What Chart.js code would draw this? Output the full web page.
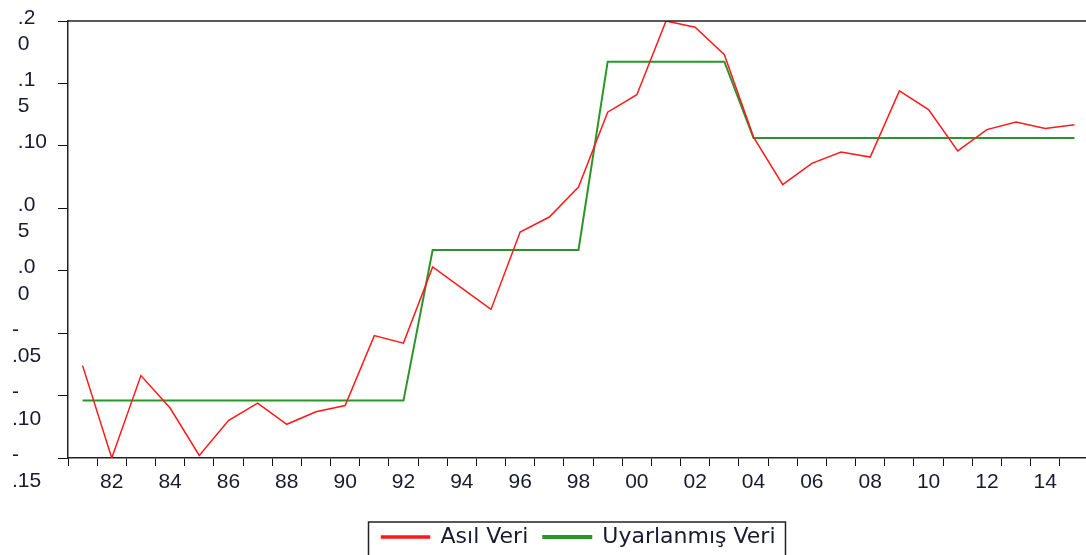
<!DOCTYPE html>
<html>
<head>
<meta charset="utf-8">
<script src="https://cdn.jsdelivr.net/npm/chart.js@4"></script>
<style>
  html, body { margin: 0; padding: 0; overflow: hidden; background: #fff; }
  #wrap { position: absolute; left: 0; top: 0; }
</style>
</head>
<body>
<div id="wrap"><canvas id="chart" width="1090" height="575"></canvas></div>
<script>
// --- veriler (yıllık) ---
const years = ['1981','1982','1983','1984','1985','1986','1987','1988','1989','1990',
               '1991','1992','1993','1994','1995','1996','1997','1998','1999','2000',
               '2001','2002','2003','2004','2005','2006','2007','2008','2009','2010',
               '2011','2012','2013','2014','2015'];

const asilVeri = [-0.076, -0.150, -0.084, -0.110, -0.148, -0.120, -0.106, -0.123, -0.113, -0.108,
                  -0.052, -0.058, 0.003, -0.014, -0.031, 0.031, 0.043, 0.067, 0.127, 0.141,
                  0.200, 0.195, 0.173, 0.107, 0.069, 0.086, 0.095, 0.091, 0.144, 0.129,
                  0.096, 0.113, 0.119, 0.114, 0.117];

const uyarlanmisVeri = [-0.104, -0.104, -0.104, -0.104, -0.104, -0.104, -0.104, -0.104, -0.104, -0.104,
                        -0.104, -0.104, 0.0166, 0.0166, 0.0166, 0.0166, 0.0166, 0.0166, 0.1674, 0.1674,
                        0.1674, 0.1674, 0.1674, 0.1063, 0.1063, 0.1063, 0.1063, 0.1063, 0.1063, 0.1063,
                        0.1063, 0.1063, 0.1063, 0.1063, 0.1063];

// x ekseni etiketleri (iki yılda bir)
const xTickLabels = ['', '82', '', '84', '', '86', '', '88', '', '90', '', '92', '', '94', '', '96', '', '98', '',
                     '00', '', '02', '', '04', '', '06', '', '08', '', '10', '', '12', '', '14', ''];

// y ekseni etiketleri: alttan üste (-.15 ... .20), orijinaldeki gibi kırılmış
const yTickLabels = [['-', '.15'], ['-', '.10'], ['-', '.05'], [' .0', ' 0'],
                     [' .0', ' 5'], [' .10', ''], [' .1', ' 5'], [' .2', ' 0']];

const textColor = '#1a1a2e';

// üst çerçeve çizgisi + lejant kutusu
const framePlugin = {
    id: 'frame',
    afterDraw(chart) {
        const ctx = chart.ctx;
        const area = chart.chartArea;
        ctx.save();
        ctx.strokeStyle = '#222';
        ctx.lineWidth = 1.5;
        ctx.beginPath();
        ctx.moveTo(area.left, area.top);
        ctx.lineTo(area.right, area.top);
        ctx.stroke();

        const hb = chart.legend.legendHitBoxes;
        if (hb && hb.length) {
            const last = hb[hb.length - 1];
            const left = hb[0].left - 13;
            const right = last.left + last.width + 10;
            const top = hb[0].top - 4;
            ctx.strokeRect(left, top, right - left, 40);
        }
        ctx.restore();
    }
};

const ctx = document.getElementById('chart').getContext('2d');
new Chart(ctx, {
    type: 'line',
    data: {
        labels: years,
        datasets: [{
            label: 'Asıl Veri',
            data: asilVeri,
            borderColor: '#ff1a1a',
            backgroundColor: '#ff1a1a',
            borderWidth: 1.5,
            pointRadius: 0,
            tension: 0
        }, {
            label: 'Uyarlanmış Veri',
            data: uyarlanmisVeri,
            borderColor: '#2a962a',
            backgroundColor: '#2a962a',
            borderWidth: 2,
            pointRadius: 0,
            tension: 0
        }]
    },
    options: {
        responsive: false,
        animation: false,
        layout: { padding: { top: 21, left: 12, right: 1, bottom: 17 } },
        plugins: {
            tooltip: { enabled: false },
            legend: {
                position: 'bottom',
                fullSize: false,
                labels: {
                    boxWidth: 48,
                    boxHeight: 2,
                    padding: 15,
                    color: textColor,
                    font: { family: '"DejaVu Sans"', size: 22 }
                }
            }
        },
        scales: {
            x: {
                offset: true,
                grid: { drawOnChartArea: false, drawTicks: true, tickLength: 8, offset: true, color: '#111' },
                border: { display: true, color: '#222', width: 1.5 },
                ticks: {
                    autoSkip: false,
                    maxRotation: 0,
                    padding: 4,
                    color: textColor,
                    font: { family: '"Liberation Sans", Arial', size: 21 },
                    callback: (v, i) => xTickLabels[i]
                },
                afterFit(scale) {
                    scale.height = 53;
                    scale.paddingLeft = 0;
                    scale.paddingRight = 0;
                }
            },
            y: {
                min: -0.15,
                max: 0.20,
                ticks: {
                    stepSize: 0.05,
                    crossAlign: 'far',
                    labelOffset: 10,
                    color: textColor,
                    font: { family: '"Liberation Sans", Arial', size: 21, lineHeight: 1.26 },
                    callback: (v, i) => yTickLabels[i]
                },
                grid: { drawOnChartArea: false, drawTicks: true, tickLength: 10, color: '#111' },
                border: { display: true, color: '#222', width: 1.5 },
                afterFit(scale) {
                    scale.width = 56;
                    scale.paddingTop = 0;
                    scale.paddingBottom = 0;
                }
            }
        }
    },
    plugins: [framePlugin]
});
</script>
</body>
</html>
